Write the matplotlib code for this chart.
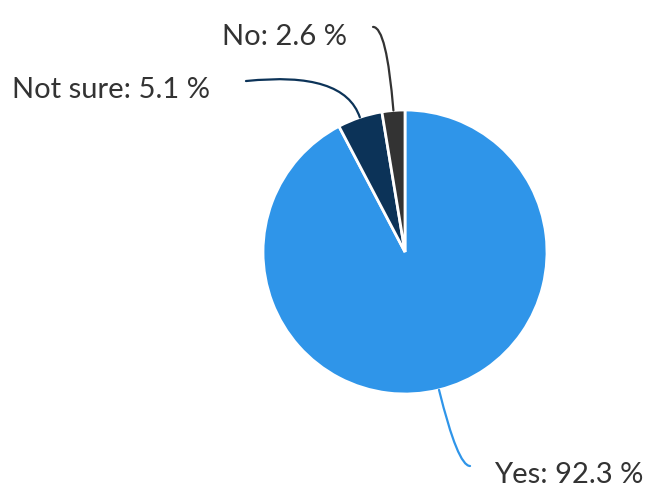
import numpy as np
import matplotlib
matplotlib.use("Agg")
import matplotlib.pyplot as plt

# survey answers
labels = ["Yes", "Not sure", "No"]
shares = [92.3, 5.1, 2.6]
colors = ["#2f95e9", "#0c3358", "#333333"]

plt.rcParams['font.family'] = ['Lato', 'DejaVu Sans']

fig = plt.figure(figsize=(6.49, 4.89), dpi=100)
ax = fig.add_axes([0, 0, 1, 1])

wedges, _ = ax.pie(
    shares,
    colors=colors,
    startangle=90,
    counterclock=False,
    radius=1.0,
    wedgeprops=dict(edgecolor="white", linewidth=2),
)

# figure is mapped so the pie (radius 1) sits where it does in the reference
px = 142.0
ax.set_xlim(-405 / px, (649 - 405) / px)
ax.set_ylim(-(489 - 253) / px, 253 / px)
ax.set_aspect("equal")
ax.axis("off")

# label layout: (line end, end-tangent angle, text anchor, ha)
layout = {
    "Yes": ((0.458, -1.507), 0, (0.625, -1.62), "left"),
    "Not sure": ((-1.120, 1.204), 6, (-1.373, 1.089), "right"),
    "No": ((-0.225, 1.585), 0, (-0.408, 1.465), "right"),
}

for w, lab, val, col in zip(wedges, labels, shares, colors):
    mid = np.deg2rad((w.theta1 + w.theta2) / 2)
    start = (np.cos(mid), np.sin(mid))
    end, ang_end, txt_pos, ha = layout[lab]
    ax.annotate(
        "", xy=start, xytext=end,
        arrowprops=dict(
            arrowstyle="-", color=col, lw=1.6,
            shrinkA=0, shrinkB=0,
            connectionstyle=f"angle3,angleA={ang_end},angleB={np.rad2deg(mid):.2f}",
        ),
    )
    ax.text(txt_pos[0], txt_pos[1], f"{lab}: {val} %",
            ha=ha, va="baseline", fontsize=21, color="#333333")

fig.savefig("out.png", dpi=100)
